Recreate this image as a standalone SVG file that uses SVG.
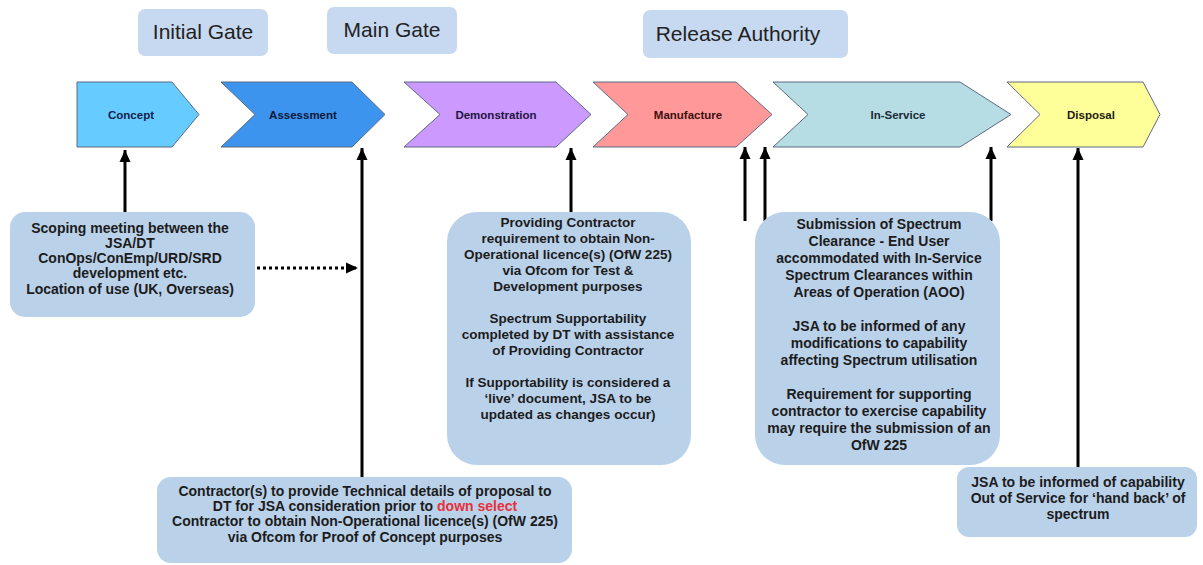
<svg xmlns="http://www.w3.org/2000/svg" width="1203" height="565" viewBox="0 0 1203 565">
<defs>
<style>
.gate{fill:#c6d9f0;}
.gt{font-family:"Liberation Sans",Arial,sans-serif;font-size:21px;fill:#222;text-anchor:middle;}
.chev{stroke:#5d6b82;stroke-width:1;}
.ct{font-family:"Liberation Sans",Arial,sans-serif;font-size:11.5px;font-weight:bold;text-anchor:middle;}
.box{fill:#bad1ea;}
.bt{font-family:"Liberation Sans",Arial,sans-serif;font-size:14px;font-weight:bold;fill:#1c1c1c;text-anchor:middle;}
.bs{font-size:13.5px;}
.arr{stroke:#000;stroke-width:3;fill:none;marker-end:url(#ah);}
.dot{stroke:#000;stroke-width:3;fill:none;stroke-dasharray:3 3;marker-end:url(#ah);}
</style>
<marker id="ah" markerUnits="userSpaceOnUse" markerWidth="14" markerHeight="14" viewBox="0 0 14 14" refX="13" refY="7" orient="auto">
<path d="M1,1.5 L13,7 L1,12.5 Z" fill="#000"/>
</marker>
</defs>

<g id="gate-initial"><rect class="gate" x="138" y="9" width="130" height="47" rx="7"/><text class="gt" x="203" y="39">Initial Gate</text></g>
<g id="gate-main"><rect class="gate" x="327" y="7" width="130" height="47" rx="7"/><text class="gt" x="392" y="37">Main Gate</text></g>
<g id="gate-release"><rect class="gate" x="643" y="10" width="205" height="48" rx="7"/><text class="gt" x="738" y="41">Release Authority</text></g>

<g id="concept"><polygon class="chev" fill="#66ccff" points="77,82 172,82 199,114.5 172,147 77,147"/><text class="ct" x="131" y="118.5" fill="#14204a">Concept</text></g>
<g id="assessment"><polygon class="chev" fill="#3d94ee" points="221,82 352,82 385,114.5 352,147 221,147 255,114.5"/><text class="ct" x="303" y="118.5" fill="#0c1838">Assessment</text></g>
<g id="demonstration"><polygon class="chev" fill="#cc99ff" points="404,82 556,82 591,114.5 556,147 404,147 440,114.5"/><text class="ct" x="496" y="118.5" fill="#22163e">Demonstration</text></g>
<g id="manufacture"><polygon class="chev" fill="#ff9999" points="593,82 736,82 772,114.5 736,147 593,147 628,114.5"/><text class="ct" x="688" y="118.5" fill="#3e1010">Manufacture</text></g>
<g id="in-service"><polygon class="chev" fill="#b6dde3" points="773,82 960,82 1011,114.5 960,147 773,147 808,114.5"/><text class="ct" x="898" y="118.5" fill="#1a2a36">In-Service</text></g>
<g id="disposal"><polygon class="chev" fill="#ffff99" points="1007,82 1143,82 1160,114.5 1143,147 1007,147 1040,114.5"/><text class="ct" x="1091" y="118.5" fill="#1c1c10">Disposal</text></g>

<g id="connectors">
<line class="arr" x1="125" y1="212" x2="125" y2="150"/>
<line class="arr" x1="362" y1="478" x2="362" y2="148"/>
<line class="dot" x1="257" y1="268" x2="358" y2="268"/>
<line class="arr" x1="571" y1="213" x2="571" y2="148"/>
<line class="arr" x1="745" y1="221" x2="745" y2="147"/>
<line class="arr" x1="765" y1="221" x2="765" y2="147"/>
<line class="arr" x1="991" y1="221" x2="991" y2="147"/>
<line class="arr" x1="1078" y1="468" x2="1078" y2="148"/>
</g>

<g id="scoping"><rect class="box" x="10" y="212" width="245" height="105" rx="15"/>
<text class="bt"><tspan x="130" y="233">Scoping meeting between the</tspan><tspan x="130" y="248">JSA/DT</tspan><tspan x="130" y="263">ConOps/ConEmp/URD/SRD</tspan><tspan x="130" y="278">development etc.</tspan><tspan x="130" y="294">Location of use (UK, Overseas)</tspan></text></g>

<g id="contractor-details"><rect class="box" x="157" y="477" width="415" height="86" rx="14"/>
<text class="bt"><tspan x="365" y="496">Contractor(s) to provide Technical details of proposal to</tspan><tspan x="365" y="511">DT for JSA  consideration prior to <tspan fill="#e8303a">down select</tspan></tspan><tspan x="365" y="526">Contractor to obtain Non-Operational licence(s) (OfW 225)</tspan><tspan x="365" y="542">via Ofcom  for Proof of Concept purposes</tspan></text></g>

<g id="demonstration-note"><rect class="box" x="447" y="212" width="244" height="253" rx="30"/>
<text class="bt bs"><tspan x="568" y="227">Providing Contractor</tspan><tspan x="568" y="243">requirement to obtain Non-</tspan><tspan x="568" y="259">Operational licence(s) (OfW 225)</tspan><tspan x="568" y="275">via Ofcom  for Test &amp;</tspan><tspan x="568" y="291">Development purposes</tspan><tspan x="568" y="323">Spectrum Supportability</tspan><tspan x="568" y="339">completed by DT with assistance</tspan><tspan x="568" y="355">of Providing Contractor</tspan><tspan x="568" y="387">If Supportability is considered a</tspan><tspan x="568" y="403">‘live’ document, JSA  to be</tspan><tspan x="568" y="419">updated as changes occur)</tspan></text></g>

<g id="in-service-note"><rect class="box" x="755" y="212" width="245" height="253" rx="30"/>
<text class="bt"><tspan x="879" y="229">Submission of Spectrum</tspan><tspan x="879" y="246">Clearance - End User</tspan><tspan x="879" y="263">accommodated  with In-Service</tspan><tspan x="879" y="280">Spectrum Clearances within</tspan><tspan x="879" y="297">Areas of Operation (AOO)</tspan><tspan x="879" y="331">JSA  to be informed of any</tspan><tspan x="879" y="348">modifications to capability</tspan><tspan x="879" y="365">affecting Spectrum utilisation</tspan><tspan x="879" y="399">Requirement for supporting</tspan><tspan x="879" y="416">contractor to exercise capability</tspan><tspan x="879" y="433">may  require the submission of an</tspan><tspan x="879" y="450">OfW 225</tspan></text></g>

<g id="disposal-note"><rect class="box" x="957" y="467" width="240" height="70" rx="12"/>
<text class="bt"><tspan x="1078" y="487">JSA  to be informed of capability</tspan><tspan x="1078" y="503">Out of Service for ‘hand back’ of</tspan><tspan x="1078" y="519">spectrum</tspan></text></g>
</svg>
